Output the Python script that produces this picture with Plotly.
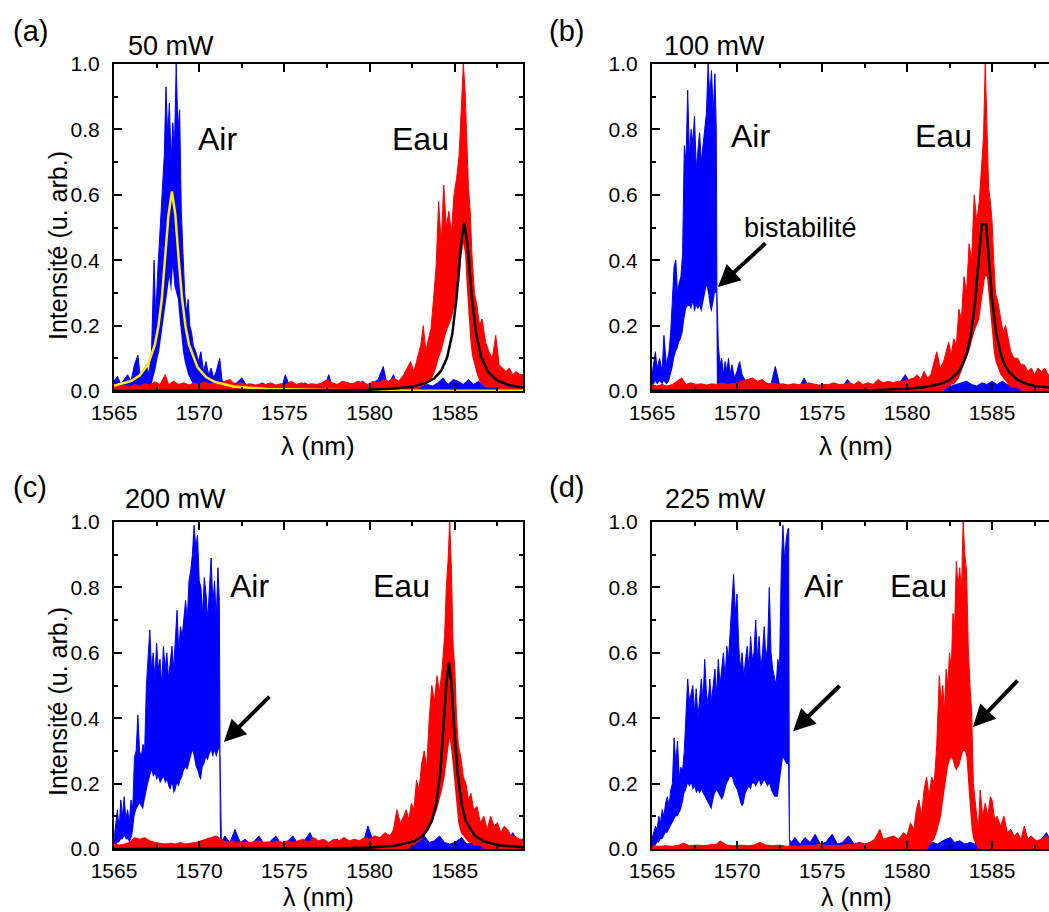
import plotly.graph_objects as go

FONT = "Liberation Sans, Arial, Helvetica, sans-serif"
W, H = 1049, 912
BLUE, RED, YEL, BLK = "#0000FF", "#FF0000", "#FFEE00", "#000000"

# ---------------- (a) 50 mW ----------------
air_a_x = [1565.0, 1565.2, 1565.4, 1565.6, 1565.8, 1566.0, 1566.2, 1566.4, 1566.55, 1566.7,
           1566.9, 1567.05, 1567.2, 1567.35, 1567.45, 1567.55, 1567.65, 1567.75, 1567.85, 1567.95,
           1568.05, 1568.15, 1568.25, 1568.35, 1568.45, 1568.55, 1568.65, 1568.75, 1568.85, 1568.95,
           1569.05, 1569.15, 1569.25, 1569.35, 1569.45, 1569.55, 1569.65, 1569.8, 1569.95, 1570.1,
           1570.25, 1570.4, 1570.55, 1570.7, 1570.85, 1571.0, 1571.2, 1571.35, 1571.6, 1571.9,
           1572.2, 1572.5, 1572.8, 1573.1, 1573.4, 1573.7, 1574.0, 1574.3, 1574.6, 1574.9,
           1575.05, 1575.3, 1575.6, 1575.9, 1576.2, 1576.5, 1576.8, 1577.1, 1577.4, 1577.6,
           1577.8, 1578.1, 1578.4, 1578.7, 1579.0, 1579.3, 1579.6, 1579.9, 1580.2, 1580.5,
           1580.8, 1581.0, 1581.2, 1581.4, 1581.6, 1581.9, 1582.2, 1582.5, 1582.8, 1583.1,
           1583.4, 1583.7, 1584.0, 1584.3, 1584.6, 1584.9, 1585.2, 1585.5, 1585.8, 1586.1,
           1586.4, 1586.7, 1587.0, 1587.3, 1587.6, 1587.9, 1588.2, 1588.5, 1588.8, 1589.0]
air_a_hi = [0.03, 0.045, 0.02, 0.035, 0.05, 0.03, 0.08, 0.11, 0.04, 0.06,
            0.08, 0.05, 0.12, 0.40, 0.22, 0.35, 0.45, 0.55, 0.62, 0.72,
            0.93, 0.78, 0.88, 0.70, 0.82, 0.75, 1.0, 0.80, 0.86, 0.55,
            0.42, 0.30, 0.24, 0.28, 0.20, 0.18, 0.14, 0.12, 0.09, 0.12,
            0.06, 0.09, 0.05, 0.07, 0.04, 0.06, 0.10, 0.03, 0.025, 0.02,
            0.025, 0.04, 0.015, 0.02, 0.015, 0.025, 0.015, 0.02, 0.015, 0.02,
            0.05, 0.015, 0.02, 0.015, 0.025, 0.015, 0.02, 0.015, 0.02, 0.05,
            0.015, 0.02, 0.015, 0.025, 0.015, 0.02, 0.03, 0.015, 0.025, 0.035,
            0.075, 0.025, 0.03, 0.05, 0.02, 0.015, 0.025, 0.015, 0.02, 0.015,
            0.02, 0.015, 0.025, 0.04, 0.02, 0.035, 0.03, 0.02, 0.035, 0.02,
            0.03, 0.015, 0.025, 0.015, 0.02, 0.015, 0.02, 0.015, 0.02, 0.015]
air_a_lo = [0, 0, 0, 0, 0, 0, 0, 0, 0, 0,
            0, 0, 0.02, 0.05, 0.07, 0.10, 0.12, 0.16, 0.20, 0.24,
            0.28, 0.32, 0.35, 0.30, 0.38, 0.32, 0.30, 0.28, 0.22, 0.16,
            0.12, 0.09, 0.07, 0.05, 0.04, 0.03, 0.02, 0.01, 0.01, 0.0] + [0] * 70

eau_a_x = [1565.0, 1565.3, 1565.6, 1565.9, 1566.2, 1566.5, 1566.8, 1567.1, 1567.4, 1567.7,
           1568.0, 1568.2, 1568.5, 1568.8, 1569.1, 1569.4, 1569.7, 1570.0, 1570.3, 1570.6,
           1570.9, 1571.2, 1571.5, 1571.8, 1572.1, 1572.4, 1572.7, 1573.0, 1573.3, 1573.6,
           1573.9, 1574.2, 1574.5, 1574.8, 1575.1, 1575.4, 1575.7, 1576.0, 1576.3, 1576.6,
           1576.9, 1577.2, 1577.5, 1577.8, 1578.1, 1578.4, 1578.7, 1579.0, 1579.3, 1579.6,
           1579.9, 1580.2, 1580.5, 1580.8, 1581.1, 1581.4, 1581.7, 1582.0, 1582.2, 1582.4,
           1582.6, 1582.8, 1583.0, 1583.15, 1583.3, 1583.45, 1583.6, 1583.75, 1583.9, 1584.05,
           1584.2, 1584.35, 1584.5, 1584.65, 1584.8, 1584.95, 1585.1, 1585.25, 1585.4, 1585.5,
           1585.6, 1585.7, 1585.8, 1585.9, 1586.0, 1586.15, 1586.3, 1586.45, 1586.6, 1586.8,
           1587.0, 1587.2, 1587.4, 1587.6, 1587.8, 1588.0, 1588.2, 1588.4, 1588.6, 1588.8,
           1589.0]
eau_a_hi = [0.02, 0.012, 0.018, 0.012, 0.02, 0.015, 0.022, 0.018, 0.028, 0.02,
            0.05, 0.02, 0.03, 0.02, 0.025, 0.018, 0.025, 0.02, 0.028, 0.022,
            0.025, 0.02, 0.03, 0.035, 0.02, 0.025, 0.02, 0.022, 0.018, 0.022,
            0.02, 0.025, 0.018, 0.022, 0.02, 0.03, 0.02, 0.025, 0.02, 0.022,
            0.02, 0.025, 0.035, 0.025, 0.02, 0.03, 0.025, 0.022, 0.03, 0.025,
            0.02, 0.03, 0.025, 0.035, 0.03, 0.04, 0.03, 0.05, 0.07, 0.09,
            0.06, 0.10, 0.14, 0.20, 0.12, 0.16, 0.19, 0.28, 0.38, 0.58,
            0.45, 0.63, 0.50, 0.55, 0.48, 0.60, 0.65, 0.72, 0.90, 1.0,
            0.92, 0.78, 0.62, 0.55, 0.42, 0.30, 0.26, 0.20, 0.22, 0.15,
            0.12, 0.10, 0.17, 0.08, 0.07, 0.06, 0.07, 0.05, 0.06, 0.05,
            0.05]
eau_a_lo = [0] * 60 + [
            0.0, 0.0, 0.01, 0.02, 0.02, 0.03, 0.03, 0.05, 0.07, 0.10,
            0.12, 0.15, 0.18, 0.20, 0.22, 0.25, 0.28, 0.33, 0.42, 0.45,
            0.42, 0.32, 0.22, 0.16, 0.11, 0.08, 0.05, 0.03, 0.02, 0.01,
            0.01, 0.01, 0.01, 0, 0, 0, 0, 0, 0, 0,
            0]

fit_a_air_x = [1565.0, 1566.0, 1566.5, 1567.0, 1567.4, 1567.6, 1567.8, 1568.0, 1568.2, 1568.4,
               1568.6, 1568.8, 1569.0, 1569.2, 1569.4, 1569.9, 1570.4, 1570.9, 1572.0, 1574.0,
               1577.0, 1580.0, 1584.0, 1589.0]
fit_a_air_y = [0.0156, 0.0304, 0.0472, 0.0816, 0.142, 0.196, 0.279, 0.399, 0.539, 0.61,
               0.539, 0.399, 0.279, 0.196, 0.142, 0.0723, 0.0429, 0.0282, 0.0139, 0.0058,
               0.0025, 0.0014, 0.00076, 0.00043]
fit_a_eau_x = [1565.0, 1570.0, 1575.0, 1578.0, 1580.0, 1581.5, 1582.5, 1583.3, 1583.8, 1584.2,
               1584.55, 1584.85, 1585.1, 1585.35, 1585.55, 1585.75, 1586.0, 1586.25, 1586.55, 1586.95,
               1587.5, 1588.2, 1589.0]
fit_a_eau_y = [0.0003, 0.00053, 0.00115, 0.00225, 0.00415, 0.0077, 0.0135, 0.0242, 0.0389, 0.0621,
               0.103, 0.174, 0.285, 0.444, 0.515, 0.444, 0.285, 0.174, 0.103, 0.0583,
               0.0318, 0.0177, 0.0106]

# ---------------- (b) 100 mW ----------------
air_b_x = [1565.0, 1565.1, 1565.2, 1565.3, 1565.45, 1565.6, 1565.7, 1565.85, 1566.0, 1566.1,
           1566.2, 1566.3, 1566.4, 1566.5, 1566.6, 1566.7, 1566.8, 1566.9, 1567.0, 1567.1,
           1567.2, 1567.3, 1567.4, 1567.5, 1567.6, 1567.7, 1567.8, 1567.9, 1568.0, 1568.1,
           1568.2, 1568.3, 1568.4, 1568.5, 1568.6, 1568.7, 1568.78, 1568.82, 1568.9, 1569.0,
           1569.1, 1569.2, 1569.3, 1569.4, 1569.5, 1569.6, 1569.7, 1569.85, 1570.0, 1570.15,
           1570.3, 1570.5, 1570.8, 1571.1, 1571.4, 1571.7, 1572.0, 1572.25, 1572.5, 1572.8,
           1573.1, 1573.4, 1573.7, 1573.95, 1574.2, 1574.5, 1574.8, 1575.1, 1575.4, 1575.7,
           1576.0, 1576.3, 1576.5, 1576.8, 1577.1, 1577.4, 1577.7, 1578.0, 1578.3, 1578.6,
           1578.9, 1579.2, 1579.5, 1579.9, 1580.2, 1580.5, 1580.8, 1581.1, 1581.4, 1581.7,
           1582.0, 1582.3, 1582.6, 1582.9, 1583.2, 1583.5, 1583.8, 1584.1, 1584.4, 1584.7,
           1585.0, 1585.3, 1585.6, 1585.9, 1586.2, 1586.5, 1586.8, 1587.1, 1587.4, 1587.7,
           1588.0, 1588.3, 1588.6, 1589.0]
air_b_hi = [0.05, 0.09, 0.12, 0.07, 0.10, 0.06, 0.17, 0.08, 0.12, 0.18,
            0.30, 0.38, 0.40, 0.30, 0.33, 0.35, 0.42, 0.75, 0.70, 0.92,
            0.72, 0.80, 0.76, 0.84, 0.68, 0.74, 0.79, 0.70, 0.75, 0.80,
            0.85, 1.0, 0.90, 0.98, 0.85, 0.97, 0.80, 0.30, 0.14, 0.08,
            0.10, 0.05, 0.09, 0.06, 0.10, 0.05, 0.08, 0.04, 0.06, 0.09,
            0.05, 0.03, 0.02, 0.03, 0.02, 0.025, 0.02, 0.075, 0.02, 0.02,
            0.015, 0.02, 0.015, 0.04, 0.015, 0.02, 0.015, 0.02, 0.015, 0.02,
            0.015, 0.02, 0.035, 0.015, 0.02, 0.015, 0.02, 0.015, 0.02, 0.015,
            0.02, 0.015, 0.02, 0.05, 0.02, 0.015, 0.02, 0.015, 0.02, 0.015,
            0.02, 0.025, 0.015, 0.02, 0.025, 0.03, 0.02, 0.015, 0.025, 0.02,
            0.03, 0.02, 0.03, 0.02, 0.025, 0.03, 0.015, 0.02, 0.015, 0.02,
            0.015, 0.02, 0.015, 0.02]
air_b_lo = [0.01, 0.02, 0.03, 0.02, 0.03, 0.02, 0.03, 0.02, 0.03, 0.05,
            0.07, 0.10, 0.12, 0.13, 0.15, 0.16, 0.18, 0.22, 0.25, 0.26,
            0.26, 0.25, 0.27, 0.24, 0.26, 0.25, 0.26, 0.24, 0.27, 0.30,
            0.32, 0.30, 0.26, 0.24, 0.27, 0.30, 0.30, 0.0, 0.01, 0.01,
            0.01, 0.01, 0, 0, 0, 0, 0, 0, 0, 0] + [0] * 64

eau_b_x = [1565.0, 1565.3, 1565.6, 1565.9, 1566.2, 1566.5, 1566.75, 1567.0, 1567.3, 1567.6,
           1567.9, 1568.2, 1568.5, 1568.8, 1569.1, 1569.4, 1569.7, 1570.0, 1570.3, 1570.6,
           1570.9, 1571.2, 1571.5, 1571.8, 1572.1, 1572.4, 1572.7, 1573.0, 1573.3, 1573.6,
           1573.9, 1574.2, 1574.5, 1574.8, 1575.1, 1575.4, 1575.7, 1576.0, 1576.3, 1576.6,
           1576.9, 1577.15, 1577.4, 1577.7, 1578.0, 1578.3, 1578.6, 1578.9, 1579.2, 1579.5,
           1579.8, 1580.1, 1580.4, 1580.6, 1580.8, 1581.0, 1581.2, 1581.4, 1581.55, 1581.75,
           1581.95, 1582.15, 1582.3, 1582.45, 1582.6, 1582.75, 1582.9, 1583.05, 1583.2, 1583.35,
           1583.5, 1583.65, 1583.8, 1583.95, 1584.1, 1584.25, 1584.4, 1584.5, 1584.6, 1584.7,
           1584.8, 1584.9, 1585.0, 1585.1, 1585.2, 1585.35, 1585.5, 1585.65, 1585.8, 1585.95,
           1586.1, 1586.3, 1586.5, 1586.7, 1586.9, 1587.1, 1587.3, 1587.5, 1587.7, 1587.9,
           1588.1, 1588.3, 1588.6, 1589.0]
eau_b_hi = [0.02, 0.015, 0.02, 0.015, 0.02, 0.03, 0.04, 0.02, 0.025, 0.02,
            0.022, 0.018, 0.022, 0.02, 0.025, 0.02, 0.022, 0.025, 0.03, 0.035,
            0.04, 0.03, 0.035, 0.02, 0.025, 0.02, 0.022, 0.018, 0.022, 0.02,
            0.02, 0.025, 0.022, 0.018, 0.02, 0.02, 0.025, 0.02, 0.02, 0.025,
            0.02, 0.03, 0.02, 0.025, 0.02, 0.035, 0.025, 0.03, 0.025, 0.03,
            0.03, 0.035, 0.04, 0.05, 0.035, 0.06, 0.04, 0.05, 0.08, 0.12,
            0.07, 0.09, 0.12, 0.15, 0.11, 0.16, 0.14, 0.25, 0.22, 0.35,
            0.30, 0.45, 0.40, 0.60, 0.52, 0.58, 0.70, 0.78, 1.0, 0.80,
            0.62, 0.58, 0.52, 0.40, 0.30, 0.27, 0.22, 0.18, 0.20, 0.16,
            0.12, 0.10, 0.10, 0.08, 0.08, 0.06, 0.07, 0.05, 0.07, 0.06,
            0.07, 0.05, 0.06, 0.05]
eau_b_lo = [0] * 60 + [
            0, 0, 0.01, 0.01, 0.02, 0.02, 0.03, 0.04, 0.06, 0.08,
            0.10, 0.12, 0.15, 0.18, 0.20, 0.22, 0.28, 0.32, 0.35, 0.35,
            0.30, 0.25, 0.18, 0.12, 0.09, 0.07, 0.05, 0.04, 0.03, 0.02,
            0.01, 0.01, 0.01, 0, 0, 0, 0, 0, 0, 0,
            0, 0, 0, 0]

fit_b_x = [1565.0, 1570.0, 1575.0, 1578.0, 1580.0, 1581.0, 1582.0, 1582.5, 1583.0, 1583.25,
           1583.5, 1583.75, 1584.0, 1584.2, 1584.4, 1584.65, 1584.85, 1585.0, 1585.25, 1585.5,
           1585.75, 1586.0, 1586.5, 1587.0, 1587.5, 1588.5, 1589.0]
fit_b_y = [0.0004, 0.0007, 0.0016, 0.0034, 0.007, 0.0114, 0.022, 0.0335, 0.0567, 0.078,
           0.112, 0.17, 0.27, 0.386, 0.51, 0.51, 0.367, 0.28, 0.176, 0.115,
           0.08, 0.058, 0.034, 0.0223, 0.0156, 0.0089, 0.007]

# ---------------- (c) 200 mW ----------------
air_c_x = [1565.0, 1565.1, 1565.2, 1565.3, 1565.4, 1565.5, 1565.6, 1565.7, 1565.8, 1565.9,
           1566.0, 1566.1, 1566.2, 1566.3, 1566.4, 1566.5, 1566.6, 1566.7, 1566.8, 1566.9,
           1567.0, 1567.1, 1567.2, 1567.3, 1567.4, 1567.5, 1567.6, 1567.7, 1567.8, 1567.9,
           1568.0, 1568.1, 1568.2, 1568.3, 1568.4, 1568.5, 1568.6, 1568.7, 1568.8, 1568.9,
           1569.0, 1569.1, 1569.2, 1569.3, 1569.4, 1569.5, 1569.6, 1569.7, 1569.8, 1569.9,
           1570.0, 1570.1, 1570.2, 1570.3, 1570.4, 1570.5, 1570.6, 1570.7, 1570.8, 1570.9,
           1571.0, 1571.1, 1571.18, 1571.22, 1571.3, 1571.5, 1571.8, 1572.1, 1572.4, 1572.7,
           1573.0, 1573.25, 1573.5, 1573.8, 1574.1, 1574.5, 1574.8, 1575.1, 1575.5, 1575.8,
           1576.1, 1576.5, 1576.8, 1577.1, 1577.4, 1577.7, 1578.1, 1578.4, 1578.7, 1579.0,
           1579.3, 1579.6, 1579.9, 1580.1, 1580.4, 1580.7, 1581.0, 1581.3, 1581.6, 1581.9,
           1582.2, 1582.5, 1582.8, 1583.2, 1583.5, 1583.8, 1584.1, 1584.4, 1584.7, 1585.0,
           1585.4, 1585.7, 1586.0, 1586.3, 1586.6, 1586.9, 1587.2, 1587.5, 1587.8, 1588.1,
           1588.4, 1588.7, 1589.0]
air_c_hi = [0.03, 0.08, 0.12, 0.06, 0.15, 0.10, 0.16, 0.09, 0.12, 0.08,
            0.15, 0.12, 0.28, 0.30, 0.41, 0.30, 0.28, 0.32, 0.30, 0.50,
            0.60, 0.67, 0.55, 0.60, 0.52, 0.63, 0.55, 0.58, 0.50, 0.62,
            0.55, 0.60, 0.52, 0.58, 0.62, 0.55, 0.66, 0.73, 0.60, 0.68,
            0.65, 0.72, 0.76, 0.70, 0.82, 0.85, 0.90, 0.99, 0.92, 0.96,
            0.82, 0.80, 0.72, 0.83, 0.78, 0.70, 0.80, 0.89, 0.75, 0.82,
            0.70, 0.86, 0.76, 0.30, 0.02, 0.04, 0.02, 0.06, 0.02, 0.03,
            0.015, 0.025, 0.04, 0.015, 0.02, 0.04, 0.015, 0.02, 0.04, 0.015,
            0.02, 0.05, 0.015, 0.02, 0.015, 0.02, 0.03, 0.015, 0.02, 0.015,
            0.02, 0.015, 0.07, 0.04, 0.02, 0.015, 0.02, 0.015, 0.02, 0.015,
            0.02, 0.015, 0.02, 0.04, 0.02, 0.025, 0.04, 0.02, 0.015, 0.02,
            0.035, 0.015, 0.02, 0.015, 0.02, 0.015, 0.02, 0.015, 0.02, 0.02,
            0.05, 0.02, 0.03]
air_c_lo = [0.0, 0.01, 0.02, 0.02, 0.03, 0.03, 0.04, 0.03, 0.03, 0.02,
            0.03, 0.05, 0.10, 0.12, 0.13, 0.14, 0.13, 0.12, 0.15, 0.18,
            0.20, 0.22, 0.24, 0.22, 0.23, 0.21, 0.22, 0.20, 0.21, 0.22,
            0.20, 0.21, 0.19, 0.18, 0.20, 0.17, 0.18, 0.20, 0.19, 0.21,
            0.22, 0.24, 0.25, 0.24, 0.26, 0.28, 0.30, 0.28, 0.25, 0.24,
            0.22, 0.21, 0.25, 0.26, 0.28, 0.27, 0.29, 0.30, 0.28, 0.30,
            0.28, 0.30, 0.31, 0.0, 0.0, 0, 0, 0, 0, 0] + [0] * 53

eau_c_x = [1565.0, 1565.3, 1565.6, 1565.9, 1566.2, 1566.5, 1566.8, 1567.1, 1567.4, 1567.7,
           1568.0, 1568.3, 1568.6, 1568.9, 1569.2, 1569.5, 1569.8, 1570.1, 1570.4, 1570.7,
           1571.0, 1571.3, 1571.6, 1571.9, 1572.2, 1572.5, 1572.8, 1573.1, 1573.4, 1573.7,
           1574.0, 1574.3, 1574.6, 1574.9, 1575.2, 1575.5, 1575.8, 1576.1, 1576.4, 1576.7,
           1577.0, 1577.3, 1577.6, 1577.9, 1578.2, 1578.5, 1578.8, 1579.1, 1579.4, 1579.7,
           1580.0, 1580.3, 1580.6, 1580.9, 1581.2, 1581.4, 1581.6, 1581.8, 1582.0, 1582.15,
           1582.3, 1582.45, 1582.6, 1582.75, 1582.9, 1583.05, 1583.2, 1583.35, 1583.5, 1583.65,
           1583.8, 1583.95, 1584.1, 1584.25, 1584.4, 1584.5, 1584.6, 1584.7, 1584.8, 1584.9,
           1585.0, 1585.1, 1585.2, 1585.35, 1585.5, 1585.65, 1585.8, 1585.95, 1586.1, 1586.3,
           1586.5, 1586.7, 1586.9, 1587.1, 1587.3, 1587.5, 1587.7, 1587.9, 1588.1, 1588.3,
           1588.5, 1588.8, 1589.0]
eau_c_hi = [0.015, 0.012, 0.015, 0.02, 0.035, 0.03, 0.035, 0.025, 0.02, 0.018,
            0.015, 0.018, 0.015, 0.02, 0.015, 0.018, 0.02, 0.025, 0.03, 0.035,
            0.04, 0.03, 0.02, 0.025, 0.02, 0.022, 0.018, 0.02, 0.025, 0.02,
            0.022, 0.018, 0.025, 0.02, 0.025, 0.02, 0.025, 0.03, 0.02, 0.035,
            0.025, 0.03, 0.02, 0.03, 0.025, 0.035, 0.025, 0.03, 0.025, 0.035,
            0.03, 0.04, 0.035, 0.05, 0.04, 0.06, 0.12, 0.08, 0.10, 0.12,
            0.09, 0.14, 0.12, 0.21, 0.18, 0.26, 0.30, 0.25, 0.40, 0.50,
            0.45, 0.53, 0.48, 0.55, 0.65, 0.80, 0.88, 1.0, 0.85, 0.62,
            0.55, 0.40, 0.32, 0.28, 0.22, 0.20, 0.15, 0.17, 0.12, 0.13,
            0.08, 0.10, 0.06, 0.10, 0.07, 0.08, 0.05, 0.07, 0.06, 0.04,
            0.04, 0.03, 0.03]
eau_c_lo = [0] * 60 + [
            0, 0.01, 0.01, 0.02, 0.02, 0.03, 0.04, 0.05, 0.06, 0.08,
            0.10, 0.12, 0.15, 0.18, 0.22, 0.26, 0.30, 0.34, 0.30, 0.24,
            0.18, 0.12, 0.08, 0.05, 0.04, 0.03, 0.02, 0.02, 0.01, 0.01,
            0.01, 0, 0, 0, 0, 0, 0, 0, 0, 0,
            0, 0, 0]

fit_c_x = [1565.0, 1570.0, 1575.0, 1578.0, 1580.0, 1581.5, 1582.65, 1583.15, 1583.65, 1583.9,
           1584.15, 1584.35, 1584.5, 1584.65, 1584.8, 1584.95, 1585.15, 1585.4, 1585.65, 1586.15,
           1586.65, 1587.65, 1589.0]
fit_c_y = [0.00026, 0.00047, 0.00108, 0.00227, 0.0046, 0.00996, 0.024, 0.0415, 0.0855, 0.136,
           0.236, 0.377, 0.505, 0.57, 0.505, 0.377, 0.236, 0.136, 0.0855, 0.0415,
           0.024, 0.011, 0.0053]

# ---------------- (d) 225 mW ----------------
air_d_x = [1565.0, 1565.1, 1565.2, 1565.3, 1565.4, 1565.5, 1565.6, 1565.7, 1565.8, 1565.9,
           1566.0, 1566.1, 1566.2, 1566.3, 1566.4, 1566.5, 1566.6, 1566.7, 1566.8, 1566.9,
           1567.0, 1567.1, 1567.2, 1567.3, 1567.4, 1567.5, 1567.6, 1567.7, 1567.8, 1567.9,
           1568.0, 1568.1, 1568.2, 1568.3, 1568.4, 1568.5, 1568.6, 1568.7, 1568.8, 1568.9,
           1569.0, 1569.1, 1569.2, 1569.3, 1569.4, 1569.5, 1569.6, 1569.7, 1569.8, 1569.9,
           1570.0, 1570.1, 1570.2, 1570.3, 1570.4, 1570.5, 1570.6, 1570.7, 1570.8, 1570.9,
           1571.0, 1571.1, 1571.2, 1571.3, 1571.4, 1571.5, 1571.6, 1571.7, 1571.8, 1571.9,
           1572.0, 1572.1, 1572.2, 1572.3, 1572.4, 1572.5, 1572.6, 1572.7, 1572.8, 1572.9,
           1573.0, 1573.04, 1573.08, 1573.2, 1573.4, 1573.7, 1574.0, 1574.3, 1574.6, 1574.9,
           1575.2, 1575.6, 1575.9, 1576.2, 1576.55, 1576.9, 1577.2, 1577.5, 1577.85, 1578.2,
           1578.5, 1578.8, 1579.1, 1579.4, 1579.7, 1580.0, 1580.3, 1580.6, 1580.9, 1581.2,
           1581.5, 1581.8, 1582.1, 1582.35, 1582.55, 1582.8, 1583.1, 1583.4, 1583.7, 1584.0,
           1584.3, 1584.6, 1584.9, 1585.2, 1585.5, 1585.8, 1586.1, 1586.4, 1586.7, 1587.0,
           1587.3, 1587.6, 1587.9, 1588.2, 1588.5, 1588.8, 1589.0]
air_d_hi = [0.03, 0.05, 0.07, 0.06, 0.10, 0.08, 0.12, 0.10, 0.14, 0.16,
            0.13, 0.18, 0.20, 0.34, 0.26, 0.33, 0.22, 0.25, 0.24, 0.30,
            0.40, 0.52, 0.45, 0.48, 0.50, 0.42, 0.49, 0.40, 0.46, 0.52,
            0.45, 0.58, 0.48, 0.44, 0.52, 0.45, 0.50, 0.55, 0.47, 0.58,
            0.50, 0.55, 0.60, 0.52, 0.62, 0.58, 0.68, 0.74, 0.84, 0.72,
            0.78, 0.62, 0.55, 0.60, 0.52, 0.58, 0.62, 0.55, 0.65, 0.58,
            0.60, 0.70, 0.58, 0.65, 0.55, 0.60, 0.68, 0.58, 0.62, 0.80,
            0.60, 0.55, 0.52, 0.50, 0.58, 0.55, 0.85, 0.99, 0.88, 0.95,
            0.98, 0.98, 0.03, 0.02, 0.035, 0.015, 0.035, 0.02, 0.045, 0.015,
            0.02, 0.045, 0.015, 0.02, 0.04, 0.015, 0.02, 0.015, 0.02, 0.015,
            0.02, 0.015, 0.02, 0.03, 0.03, 0.015, 0.02, 0.015, 0.02, 0.015,
            0.02, 0.015, 0.025, 0.03, 0.035, 0.02, 0.025, 0.015, 0.02, 0.015,
            0.025, 0.015, 0.02, 0.015, 0.02, 0.015, 0.02, 0.015, 0.02, 0.015,
            0.02, 0.015, 0.03, 0.05, 0.02, 0.03, 0.02]
air_d_lo = [0.0, 0.01, 0.01, 0.02, 0.02, 0.03, 0.03, 0.04, 0.05, 0.05,
            0.06, 0.07, 0.08, 0.09, 0.10, 0.10, 0.11, 0.12, 0.14, 0.17,
            0.18, 0.20, 0.19, 0.20, 0.18, 0.19, 0.17, 0.18, 0.17, 0.18,
            0.17, 0.16, 0.15, 0.14, 0.13, 0.12, 0.15, 0.17, 0.18, 0.17,
            0.16, 0.15, 0.16, 0.18, 0.20, 0.21, 0.22, 0.22, 0.20, 0.19,
            0.18, 0.16, 0.14, 0.13, 0.14, 0.17, 0.18, 0.19, 0.18, 0.20,
            0.20, 0.19, 0.20, 0.21, 0.19, 0.20, 0.21, 0.20, 0.19, 0.20,
            0.18, 0.17, 0.16, 0.16, 0.16, 0.20, 0.25, 0.28, 0.27, 0.26,
            0.26, 0.0, 0.0, 0, 0, 0, 0, 0, 0, 0] + [0] * 47

eau_d_x = [1565.0, 1565.4, 1565.8, 1566.2, 1566.6, 1566.85, 1567.2, 1567.6, 1568.0, 1568.4,
           1568.8, 1569.0, 1569.4, 1569.8, 1570.2, 1570.6, 1571.0, 1571.35, 1571.7, 1572.1,
           1572.5, 1572.9, 1573.3, 1573.7, 1574.1, 1574.5, 1574.9, 1575.3, 1575.7, 1576.1,
           1576.5, 1576.9, 1577.2, 1577.5, 1577.8, 1578.1, 1578.4, 1578.6, 1578.9, 1579.2,
           1579.5, 1579.8, 1580.0, 1580.2, 1580.4, 1580.55, 1580.7, 1580.85, 1581.0, 1581.15,
           1581.3, 1581.45, 1581.6, 1581.75, 1581.9, 1582.0, 1582.1, 1582.2, 1582.3, 1582.4,
           1582.5, 1582.6, 1582.7, 1582.8, 1582.9, 1583.0, 1583.1, 1583.2, 1583.3, 1583.4,
           1583.5, 1583.6, 1583.7, 1583.8, 1583.9, 1584.0, 1584.1, 1584.2, 1584.3, 1584.45,
           1584.6, 1584.75, 1584.9, 1585.0, 1585.15, 1585.3, 1585.5, 1585.7, 1585.9, 1586.1,
           1586.3, 1586.5, 1586.7, 1586.9, 1587.1, 1587.3, 1587.6, 1587.9, 1588.2, 1588.5,
           1588.8, 1589.0]
eau_d_hi = [0.01, 0.008, 0.01, 0.008, 0.012, 0.018, 0.01, 0.012, 0.01, 0.012,
            0.015, 0.025, 0.012, 0.01, 0.012, 0.01, 0.012, 0.02, 0.012, 0.01,
            0.012, 0.008, 0.01, 0.008, 0.012, 0.01, 0.015, 0.01, 0.012, 0.01,
            0.015, 0.012, 0.02, 0.015, 0.02, 0.03, 0.06, 0.03, 0.035, 0.04,
            0.03, 0.05, 0.04, 0.08, 0.06, 0.12, 0.15, 0.10, 0.18, 0.22,
            0.16, 0.22, 0.20, 0.32, 0.53, 0.45, 0.50, 0.42, 0.55, 0.50,
            0.60, 0.55, 0.72, 0.68, 0.88, 0.80, 0.86, 0.78, 1.0, 0.90,
            0.85, 0.62, 0.50, 0.42, 0.20, 0.14, 0.10, 0.06, 0.18, 0.10,
            0.14, 0.10, 0.16, 0.15, 0.09, 0.10, 0.07, 0.10, 0.05, 0.06,
            0.04, 0.05, 0.03, 0.07, 0.03, 0.04, 0.025, 0.03, 0.04, 0.02,
            0.03, 0.02]
eau_d_lo = [0] * 50 + [
            0.01, 0.02, 0.03, 0.05, 0.08, 0.10, 0.14, 0.18, 0.22, 0.25,
            0.27, 0.28, 0.27, 0.25, 0.24, 0.25, 0.26, 0.28, 0.30, 0.30,
            0.28, 0.20, 0.12, 0.06, 0.03, 0.02, 0.01, 0.0, 0.0, 0.0] + [0] * 22

panel_titles = ["50 mW", "100 mW", "200 mW", "225 mW"]
panel_letters = ["(a)", "(b)", "(c)", "(d)"]

# ---------------- figure ----------------
def px_x(p):
    return p / W


def px_y(p):
    return 1 - p / H


XD_L = [px_x(114), px_x(523)]
XD_R = [px_x(652), 1.0]
YD_T = [px_y(391), px_y(64)]
YD_B = [px_y(849), px_y(522)]

panels = [
    dict(ax="", xd=XD_L, yd=YD_T, xr=[1565, 1589], mirror_y="ticks",
         air=(air_a_x, air_a_lo, air_a_hi), eau=(eau_a_x, eau_a_lo, eau_a_hi),
         fits=[(fit_a_air_x, fit_a_air_y, YEL), (fit_a_eau_x, fit_a_eau_y, BLK)]),
    dict(ax="2", xd=XD_R, yd=YD_T, xr=[1565, 1588.35], mirror_y=False,
         air=(air_b_x, air_b_lo, air_b_hi), eau=(eau_b_x, eau_b_lo, eau_b_hi),
         fits=[(fit_b_x, fit_b_y, BLK)]),
    dict(ax="3", xd=XD_L, yd=YD_B, xr=[1565, 1589], mirror_y="ticks",
         air=(air_c_x, air_c_lo, air_c_hi), eau=(eau_c_x, eau_c_lo, eau_c_hi),
         fits=[(fit_c_x, fit_c_y, BLK)]),
    dict(ax="4", xd=XD_R, yd=YD_B, xr=[1565, 1588.35], mirror_y=False,
         air=(air_d_x, air_d_lo, air_d_hi), eau=(eau_d_x, eau_d_lo, eau_d_hi),
         fits=[]),
]

fig = go.Figure()
tickfont = dict(family=FONT, size=21, color="black")

for p in panels:
    xa, ya = "x" + p["ax"], "y" + p["ax"]
    for (sx, slo, shi), col in ((p["air"], BLUE), (p["eau"], RED)):
        assert len(sx) == len(slo) == len(shi), (p["ax"], len(sx), len(slo), len(shi))
        fig.add_trace(go.Scatter(x=sx, y=slo, xaxis=xa, yaxis=ya, mode="lines",
                                 line=dict(width=0, color=col), showlegend=False,
                                 hoverinfo="skip"))
        fig.add_trace(go.Scatter(x=sx, y=shi, xaxis=xa, yaxis=ya, mode="lines",
                                 line=dict(width=1, color=col), fill="tonexty",
                                 fillcolor=col, showlegend=False, hoverinfo="skip"))
    for fx, fy, col in p["fits"]:
        assert len(fx) == len(fy)
        fig.add_trace(go.Scatter(x=fx, y=fy, xaxis=xa, yaxis=ya, mode="lines",
                                 line=dict(width=2.5, color=col), showlegend=False))

    fig.layout["xaxis" + p["ax"]] = dict(
        domain=p["xd"], range=p["xr"], anchor=ya, showline=True, linecolor="black",
        linewidth=2, mirror="ticks", ticks="inside", ticklen=8, tickwidth=2,
        tickcolor="black", tick0=1565, dtick=5, automargin=False,
        minor=dict(ticks="inside", ticklen=4, tickwidth=1.5, tickcolor="black",
                   tick0=1565, dtick=2.5),
        showgrid=False, zeroline=False, tickfont=tickfont, ticklabelstandoff=2)
    fig.layout["yaxis" + p["ax"]] = dict(
        domain=p["yd"], range=[0, 1.0], anchor=xa, showline=True, linecolor="black",
        linewidth=2, mirror=p["mirror_y"], ticks="inside", ticklen=8, tickwidth=2,
        tickcolor="black", tick0=0, dtick=0.2, tickformat=".1f", automargin=False,
        minor=dict(ticks="inside", ticklen=4, tickwidth=1.5, tickcolor="black",
                   tick0=0, dtick=0.1),
        showgrid=False, zeroline=False, tickfont=tickfont, ticklabelstandoff=8)

ann = []


def txt(t, x, y, size, angle=0):
    ann.append(dict(text=t, x=px_x(x), y=px_y(y), xref="paper", yref="paper",
                    xanchor="center", yanchor="middle", showarrow=False,
                    textangle=angle, font=dict(family=FONT, size=size, color="black")))


# panel letters and powers
for letter, (lx, ly) in zip(panel_letters, [(30, 31), (566, 31), (30, 487), (566, 487)]):
    txt(letter, lx, ly, 29)
for title, (tx, ty) in zip(panel_titles, [(171, 46), (714, 46), (175, 499), (715, 499)]):
    txt(title, tx, ty, 27)

# axis titles
for cx, cy, fs in [(318, 446, 26), (856, 446, 26), (318, 897, 25), (856, 897, 25)]:
    txt("λ (nm)", cx, cy, fs)
for cy in [246, 702]:
    txt("Intensité (u. arb.)", 58, cy, 25, angle=-90)

# Air / Eau labels
for t, x, y in [("Air", 217, 139), ("Eau", 420, 139), ("Air", 750, 136), ("Eau", 943, 136),
                ("Air", 249, 586), ("Eau", 401, 586), ("Air", 823, 586), ("Eau", 918, 586)]:
    txt(t, x, y, 32)

txt("bistabilité", 800, 228, 27)

# arrows (head in data coordinates, tail offset in pixels)
arrows = [("x2", "y2", 1568.88, 0.318, 49, -45),
          ("x3", "y3", 1571.45, 0.327, 47, -47),
          ("x4", "y4", 1573.3, 0.36, 48, -47),
          ("x4", "y4", 1583.88, 0.373, 46, -48)]
for xr_, yr_, hx, hy, dx, dy in arrows:
    ann.append(dict(x=hx, y=hy, xref=xr_, yref=yr_, ax=dx, ay=dy, axref="pixel",
                    ayref="pixel", text="", showarrow=True, arrowhead=2, arrowsize=1.1,
                    arrowwidth=4, arrowcolor="black", standoff=0, startstandoff=0))

fig.update_layout(width=W, height=H,
                  margin=dict(l=0, r=0, t=0, b=0, pad=0, autoexpand=False),
                  paper_bgcolor="white", plot_bgcolor="white", annotations=ann,
                  showlegend=False, font=dict(family=FONT, color="black"))

fig.write_html("out.html", config={"displayModeBar": False},
               post_script="document.body.style.margin='0px';")
